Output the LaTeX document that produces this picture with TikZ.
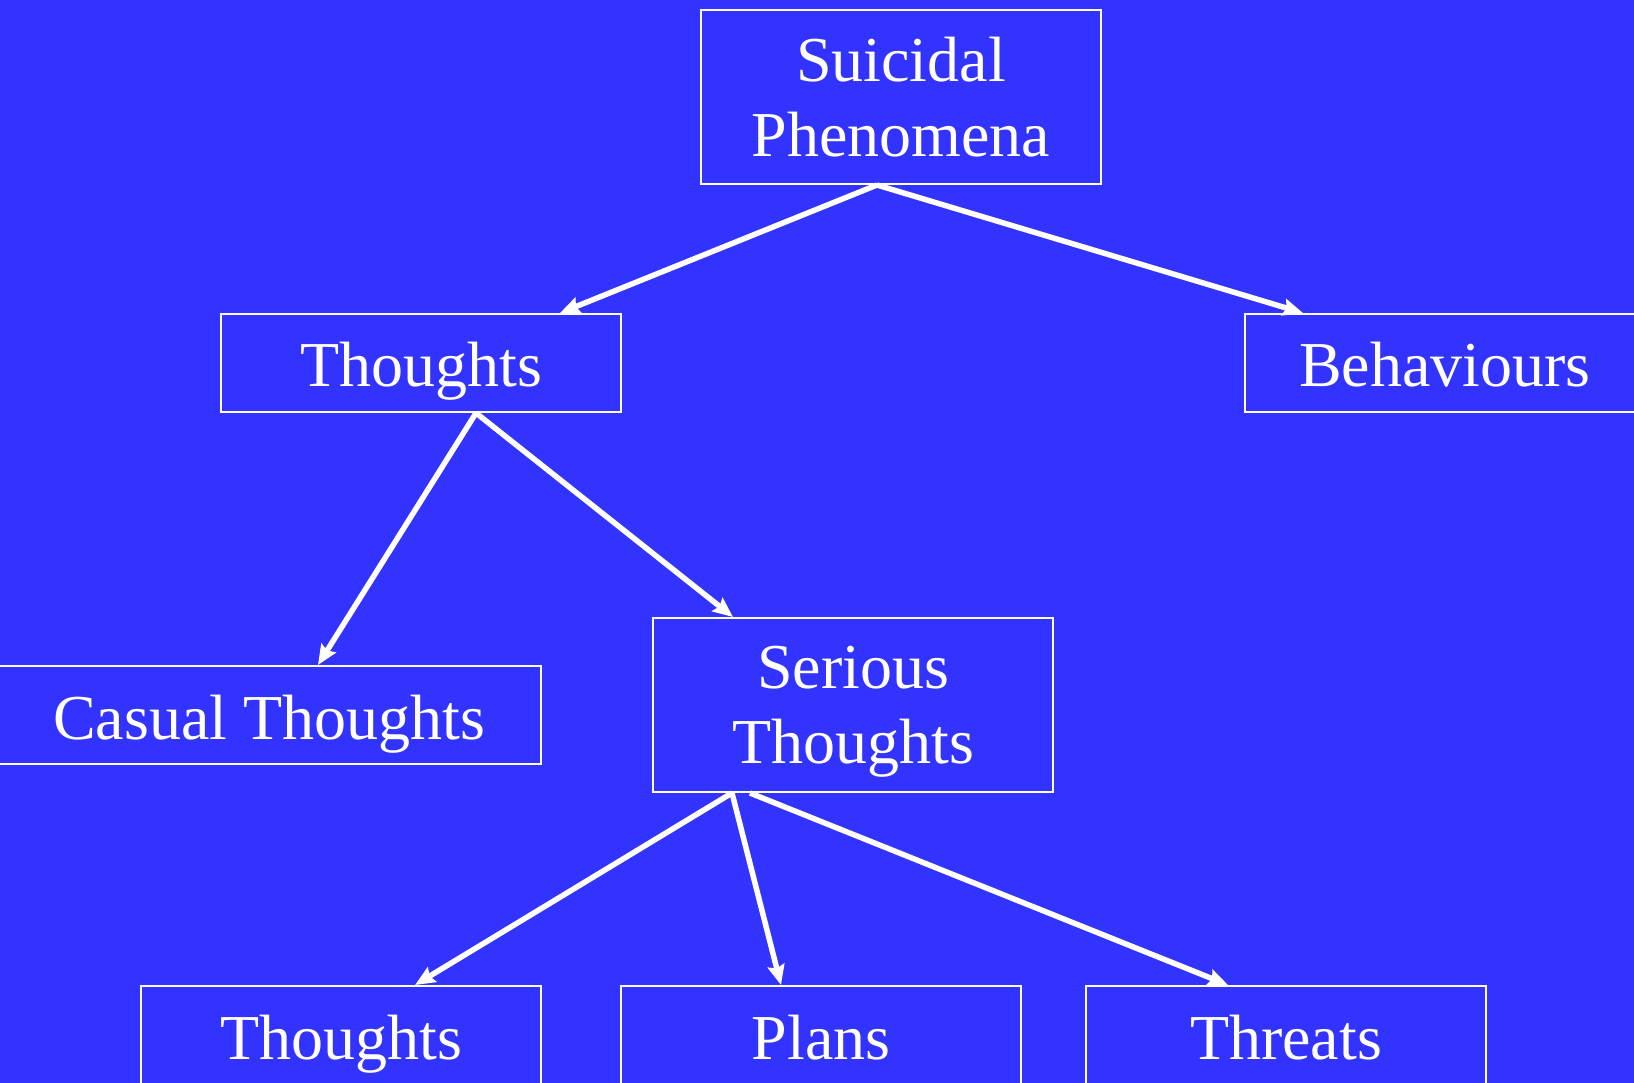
\documentclass[tikz,border=0pt]{standalone}
\usepackage{fontspec}
\setmainfont{Liberation Serif}
\usepackage{xcolor}
\usepackage{tikz}
\usetikzlibrary{arrows.meta}
\definecolor{slideblue}{RGB}{51,51,255}
\tikzset{
    boxnode/.style = {align=center, inner sep=0pt, text centered, draw=white, line width=2pt, white,
                      font=\fontsize{64}{75}\selectfont, minimum width=400pt},
    one_line/.style = {boxnode, minimum height=98pt, text height=48pt, text depth=0pt},
    two_line/.style = {boxnode, minimum height=174pt, text depth=0pt},
    wide_line/.style = {one_line, minimum width=544pt}
}
\begin{document}
\begin{tikzpicture}
            [x=1pt, y=-1pt, ->, >={Stealth[length=20pt, width=17pt, inset=3pt]},
            link/.style={draw=white, line width=5.5pt}]

            \fill [slideblue] (0,0) rectangle (1634,1083);
            \useasboundingbox (0,0) rectangle (1634,1083);

            % top level
            \node [two_line] (phen) at (901,97) {Suicidal\\Phenomena};
            % second level
            \node [one_line] (thoughts) at (421,363) {Thoughts};
            \node [one_line] (behav) at (1445,363) {Behaviours};
            % third level
            \node [wide_line] (casual) at (269,715) {Casual Thoughts};
            \node [two_line] (serious) at (853,705) {Serious\\Thoughts};
            % fourth level
            \node [one_line] (sthoughts) at (341,1035) {Thoughts};
            \node [one_line] (plans) at (821,1035) {Plans};
            \node [one_line] (threats) at (1286,1035) {Threats};

            \draw [link] ([xshift=-24pt]phen.south) -- ([xshift=139pt]thoughts.north);
            \draw [link] ([xshift=-24pt]phen.south) -- ([xshift=-142pt]behav.north);
            \draw [link] ([xshift=55pt]thoughts.south) -- ([xshift=49pt]casual.north);
            \draw [link] ([xshift=55pt]thoughts.south) -- ([xshift=-120pt]serious.north);
            \draw [link] ([xshift=-121pt]serious.south) -- ([xshift=74pt]sthoughts.north);
            \draw [link] ([xshift=-121pt]serious.south) -- ([xshift=-40pt]plans.north);
            \draw [link] ([xshift=-103pt]serious.south) -- ([xshift=-58pt]threats.north);
        \end{tikzpicture}
\end{document}
